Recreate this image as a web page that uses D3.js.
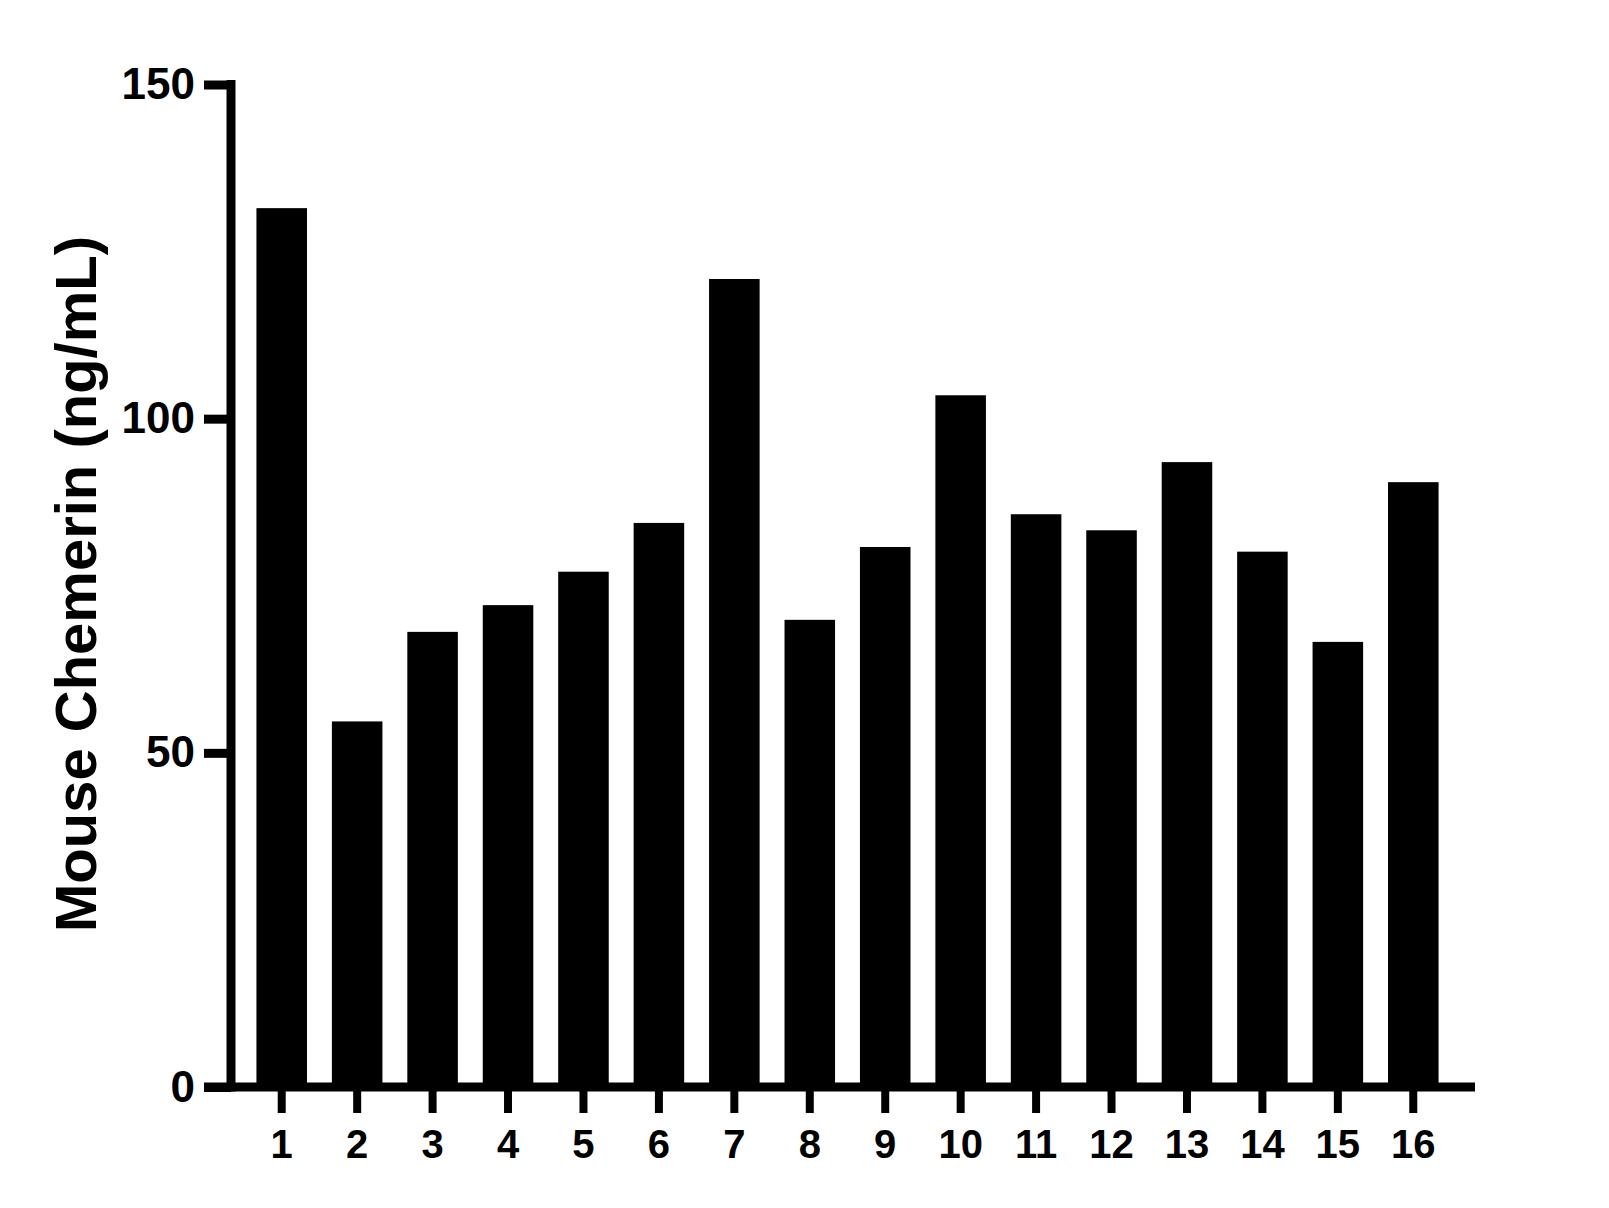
<!DOCTYPE html>
<html>
<head>
<meta charset="utf-8">
<script src="https://cdn.jsdelivr.net/npm/d3@7"></script>
<style>
  html, body { margin: 0; padding: 0; background: #fff; }
  svg { display: block; }
  text { font-family: Arial, "Liberation Sans", sans-serif; font-weight: bold; fill: #000; }
</style>
</head>
<body>
<svg width="1609" height="1208"></svg>
<script>
// datos
const samples = ["1","2","3","4","5","6","7","8","9","10","11","12","13","14","15","16"];
const chemerin = [131.5, 54.7, 68.1, 72.1, 77.1, 84.4, 120.9, 69.9, 80.8, 103.5, 85.7, 83.3, 93.5, 80.1, 66.6, 90.5];
const yTicks = [0, 50, 100, 150];
const yTitle = "Mouse Chemerin (ng/mL)";

const svg = d3.select("svg");

const axisX = 231;      // centro de la linea del eje y
const baseY = 1087;     // centro de la linea del eje x

const y = d3.scaleLinear().domain([0, 150]).range([baseY, 84.5]);

const x = d3.scaleBand()
    .domain(samples)
    .range([244, 1451])
    .paddingInner(0.33)
    .paddingOuter(0.165);

// barras
svg.append("g")
    .selectAll("rect")
    .data(samples)
    .enter()
    .append("rect")
    .attr("x", d => x(d))
    .attr("width", x.bandwidth())
    .attr("y", (d, i) => y(chemerin[i]))
    .attr("height", (d, i) => y(0) - y(chemerin[i]))
    .attr("fill", "#000");

// eje y
const gy = svg.append("g")
    .attr("transform", `translate(${axisX},0)`)
    .call(d3.axisLeft(y).tickValues(yTicks).tickSize(27).tickSizeOuter(0).tickPadding(9));
gy.select(".domain")
    .attr("d", `M0,${y(0)}V${y(150)}`)
    .attr("stroke", "#000")
    .attr("stroke-width", 9)
    .attr("stroke-linecap", "square");
gy.selectAll(".tick line").attr("stroke", "#000").attr("stroke-width", 9);
gy.selectAll(".tick text").style("font-size", "44px");

// linea del eje x
svg.append("line")
    .attr("x1", axisX - 27)
    .attr("x2", 1475)
    .attr("y1", baseY)
    .attr("y2", baseY)
    .attr("stroke", "#000")
    .attr("stroke-width", 9);

// eje x
const gx = svg.append("g")
    .attr("transform", `translate(0,${baseY})`)
    .call(d3.axisBottom(x).tickSize(26).tickSizeOuter(0).tickPadding(17));
gx.select(".domain").remove();
gx.selectAll(".tick line").attr("stroke", "#000").attr("stroke-width", 8);
gx.selectAll(".tick text").style("font-size", "40px");

// titulo del eje y
svg.append("text")
    .attr("transform", "translate(96,584) rotate(-90)")
    .attr("text-anchor", "middle")
    .style("font-size", "58px")
    .text(yTitle);
</script>
</body>
</html>
